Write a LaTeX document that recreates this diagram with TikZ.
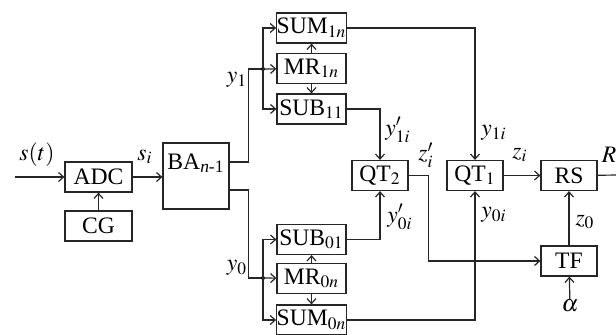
\documentclass[tikz,border=0pt]{standalone}
\usepackage{mathptmx}
\usepackage{fontspec}
\setmainfont{Liberation Serif}
\usetikzlibrary{arrows.meta}

\tikzset{
  block/.style={draw, inner sep=0pt, minimum height=15pt},
  wide/.style={block, minimum width=34.5pt},
  narrow/.style={block, minimum width=28pt},
  lbl/.style={inner sep=0pt},
}

\begin{document}
\begin{tikzpicture}[x=0.5pt, y=-0.5pt, line width=0.6pt, draw=black!85,
    font=\fontsize{11.8}{14}\selectfont,
    >={Straight Barb[length=2.5pt,width=4.5pt]}]
            \clip (0,0) rectangle (616,334);
            \useasboundingbox (0,0) rectangle (616,334);

            \coordinate (in) at (15,177);
            \coordinate (out) at (620,175);
            \coordinate (j1) at (263,69);
            \coordinate (j0) at (263,278);

            \node[block, minimum width=33.5pt] (adc) at (98.5,177) {ADC};
            \node[block, minimum width=33.5pt] (cg) at (98.5,226) {CG};
            \node[block, minimum width=33pt, minimum height=33pt] (ba) at (196,176) {};
            \node[lbl] at (196,163) {BA\textsubscript{\textit{n}-1}};

            \node[wide] (sum1) at (311.5,28) {SUM$_{1n}$};
            \node[wide] (mr1) at (311.5,68.5) {MR$_{1n}$};
            \node[wide] (sub11) at (311.5,109) {SUB$_{11}$};

            \node[wide] (sub01) at (311.5,239.5) {SUB$_{01}$};
            \node[wide] (mr0) at (311.5,278.5) {MR$_{0n}$};
            \node[wide] (sum0) at (311.5,320) {SUM$_{0n}$};

            \node[narrow] (qt2) at (380,175.5) {QT$_2$};
            \node[narrow] (qt1) at (475,175.5) {QT$_1$};
            \node[narrow] (rs) at (569,175.5) {RS};
            \node[narrow] (tf) at (569,261) {TF};
            \node[lbl] (al) at (570,306) {$\alpha$};

            % input part
            \draw[->] (in) -- (adc);
            \draw[->] (cg) -- (adc);
            \draw[->] (adc.east) -- (adc.east -| ba.west);

            % branches y1 and y0
            \draw ([yshift=7pt]ba.east) -- ++(9.5pt,0) |- (j1);
            \draw ([yshift=-7pt]ba.east) -- ++(9.5pt,0) |- (j0);
            \fill (j1) circle (1pt);
            \fill (j0) circle (1pt);
            \draw[->] (j1) -- (mr1);
            \draw[->] (j1) |- (sum1);
            \draw[->] (j1) |- (sub11);
            \draw[->] (j0) -- (mr0);
            \draw[->] (j0) |- (sub01);
            \draw[->] (j0) |- (sum0);
            \draw[->] (mr1) -- (sum1);
            \draw[->] (mr1) -- (sub11);
            \draw[->] (mr0) -- (sub01);
            \draw[->] (mr0) -- (sum0);

            % to the quantizers
            \draw[->] (sub11) -| (qt2);
            \draw[->] (sub01) -| (qt2);
            \draw[->] (sum1) -| (qt1);
            \draw[->] (sum0) -| (qt1);
            \draw[->] (qt2.east) -- ++(10pt,0) |- (tf);
            \draw[->] (qt1) -- (rs);
            \draw[->] (tf) -- (rs);
            \draw[->] (al) -- (tf);
            \draw (rs) -- (out);

            \node[lbl] at (37,155) {$s(t)$};
            \node[lbl] at (145,157) {$s_i$};
            \node[lbl] at (237,80) {$y_1$};
            \node[lbl] at (237,268) {$y_0$};
            \node[lbl] at (398,130) {$y'_{1i}$};
            \node[lbl] at (400,217) {$y'_{0i}$};
            \node[lbl] at (426,155) {$z'_i$};
            \node[lbl] at (494,133) {$y_{1i}$};
            \node[lbl] at (494,215) {$y_{0i}$};
            \node[lbl] at (520,155) {$z_i$};
            \node[lbl] at (585,222) {$z_0$};
            \node[lbl] at (609,155) {$R$};
        \end{tikzpicture}
\end{document}
